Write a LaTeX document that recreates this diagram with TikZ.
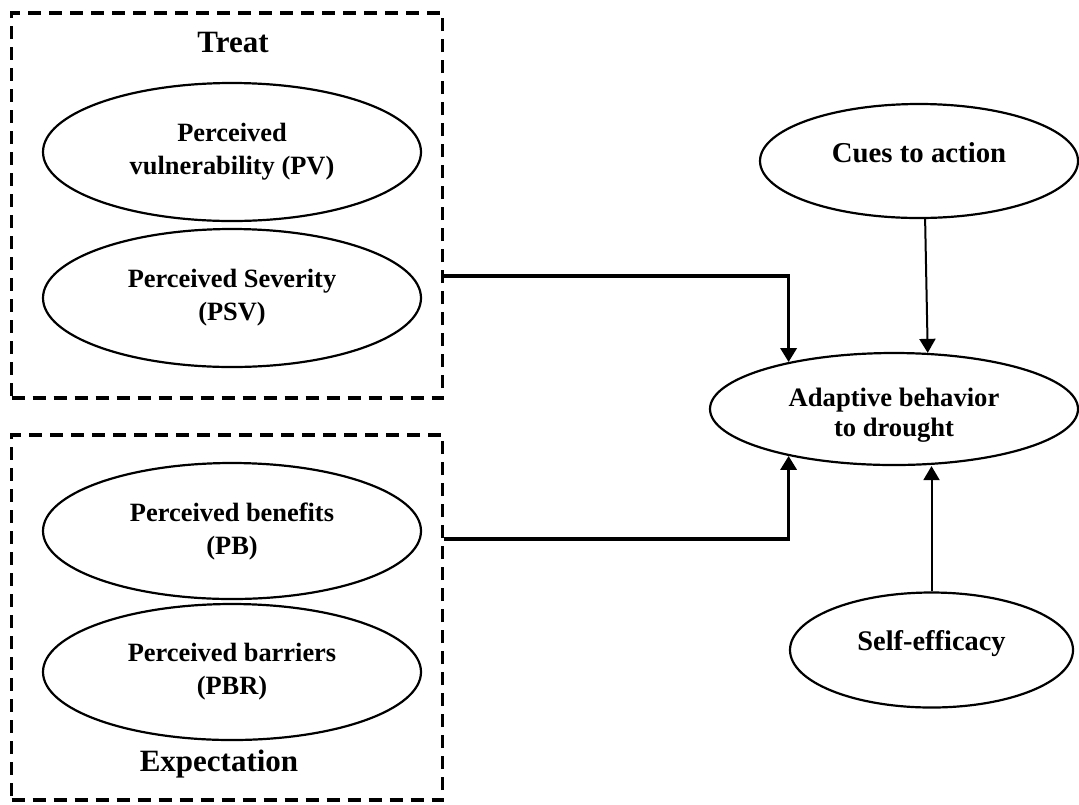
\documentclass[tikz,border=0pt]{standalone}
\usepackage{fontspec}
\setmainfont{Liberation Serif}
\usetikzlibrary{arrows.meta,shapes.geometric,calc}
\begin{document}
\begin{tikzpicture}[x=0.5pt, y=-0.5pt,
  groupbox/.style={draw, line width=1.7pt, dash pattern=on 6.5pt off 4pt, minimum width=215.5pt},
  oval/.style={draw, ellipse, line width=1.1pt, inner sep=0pt, align=center, font=\fontsize{13.2}{16.5}\selectfont\bfseries},
  head/.style={font=\fontsize{15.5}{18}\selectfont\bfseries},
  arr/.style={line width=1pt, -{Triangle[length=7pt, width=8pt]}},
  thickarr/.style={line width=1.7pt, -{Triangle[length=7pt, width=8pt]}}]
  \useasboundingbox (0,0) rectangle (1079,804);

  % dashed groups
  \node[groupbox, minimum height=192.5pt] (treatbox) at (227,205.5) {};
  \node[groupbox, minimum height=182.5pt] (expbox) at (227,617.5) {};
  \node[head] (treat) at (233,42) {Treat};
  \node[head] (expect) at (219,764) {Expectation};

  % constructs on the left
  \node[oval, minimum width=189pt, minimum height=69pt] (pv) at (232,152) {Perceived\\vulnerability (PV)};
  \node[oval, minimum width=189pt, minimum height=69pt] (psv) at (232,298) {Perceived Severity\\(PSV)};
  \node[oval, minimum width=189pt, minimum height=68pt] (pb) at (232,531) {Perceived benefits\\(PB)};
  \node[oval, minimum width=189pt, minimum height=68pt] (pbr) at (232,672) {Perceived barriers\\(PBR)};

  % constructs on the right
  \node[oval, minimum width=159pt, minimum height=57pt, text depth=8.5pt,
        font=\fontsize{14.4}{17}\selectfont\bfseries] (cues) at (919,161) {Cues to action};
  \node[oval, minimum width=184pt, minimum height=56pt, text height=30pt,
        font=\fontsize{13.3}{15}\selectfont\bfseries] (adapt) at (894,409) {Adaptive behavior\\to drought};
  \node[oval, minimum width=141.5pt, minimum height=57.5pt, text depth=10pt,
        font=\fontsize{14.2}{17}\selectfont\bfseries] (selfeff) at (931.5,650) {Self-efficacy};

  % connectors
  \coordinate (tout) at ($(treatbox.east)+(0,70.5)$);
  \coordinate (eout) at ($(expbox.east)+(0,-78.5)$);
  \draw[thickarr] (tout) -| (adapt.156);
  \draw[thickarr] (eout) -| (adapt.204);
  \draw[arr] (cues.-84) -- (adapt.59);
  \draw[arr] (selfeff.north) -- (selfeff.north |- adapt.south);
\end{tikzpicture}
\end{document}
